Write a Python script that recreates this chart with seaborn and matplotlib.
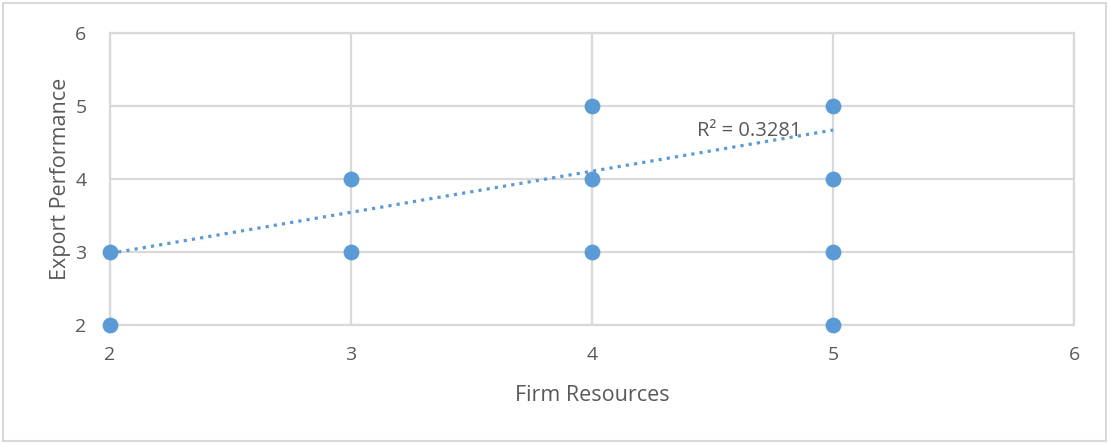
import numpy as np
import matplotlib
matplotlib.use("Agg")
import matplotlib.pyplot as plt
import seaborn as sns
import pandas as pd
from matplotlib.patches import Rectangle

# data
firm_resources = [2, 2, 3, 3, 4, 4, 4, 5, 5, 5, 5]
export_perf = [2, 3, 3, 4, 3, 4, 5, 2, 3, 4, 5]
# linear trendline (Excel)
trend_slope = 0.563
trend_intercept = 1.855
r_squared = "0.3281"

df = pd.DataFrame({"Firm Resources": firm_resources, "Export Performance": export_perf})

sns.set_theme(style="white")
plt.rcParams['font.family'] = ['Open Sans', 'DejaVu Sans']

blue = "#5B9BD5"
grey = "#D9D9D9"
txt = "#595959"

fig = plt.figure(figsize=(11.1, 4.44), dpi=100)
fig.patches.append(Rectangle((0.003, 0.006), 0.993, 0.988, transform=fig.transFigure,
                             fill=False, edgecolor=grey, linewidth=1.5))
ax = fig.add_axes([0.0991, 0.268, 0.8685, 0.6577])

tx = np.array([min(firm_resources), max(firm_resources)])
ax.plot(tx, trend_intercept + trend_slope * tx, linestyle=(0, (1, 1.6)), color=blue,
        linewidth=2.3, zorder=2)
sns.scatterplot(data=df, x="Firm Resources", y="Export Performance", ax=ax, s=130,
                color=blue, edgecolor=blue, linewidth=0, zorder=3, clip_on=False)

ax.set_xlim(2, 6)
ax.set_ylim(2, 6)
ax.set_xticks([2, 3, 4, 5, 6])
ax.set_yticks([2, 3, 4, 5, 6])
ax.grid(True, color=grey, linewidth=1.6)
ax.set_axisbelow(True)
for s in ax.spines.values():
    s.set_color(grey)
    s.set_linewidth(1.6)
ax.tick_params(axis="both", length=0, labelsize=14, labelcolor=txt)
ax.tick_params(axis="x", pad=15)
ax.tick_params(axis="y", pad=17)
ax.set_xlabel("Firm Resources", fontsize=15.5, color=txt, labelpad=15)
ax.set_ylabel("Export Performance", fontsize=15.5, color=txt, labelpad=3)

ax.text(4.436, 4.66, "R² = " + r_squared, fontsize=14.5, color=txt, va="center", ha="left")

plt.savefig("out.png", dpi=100)
